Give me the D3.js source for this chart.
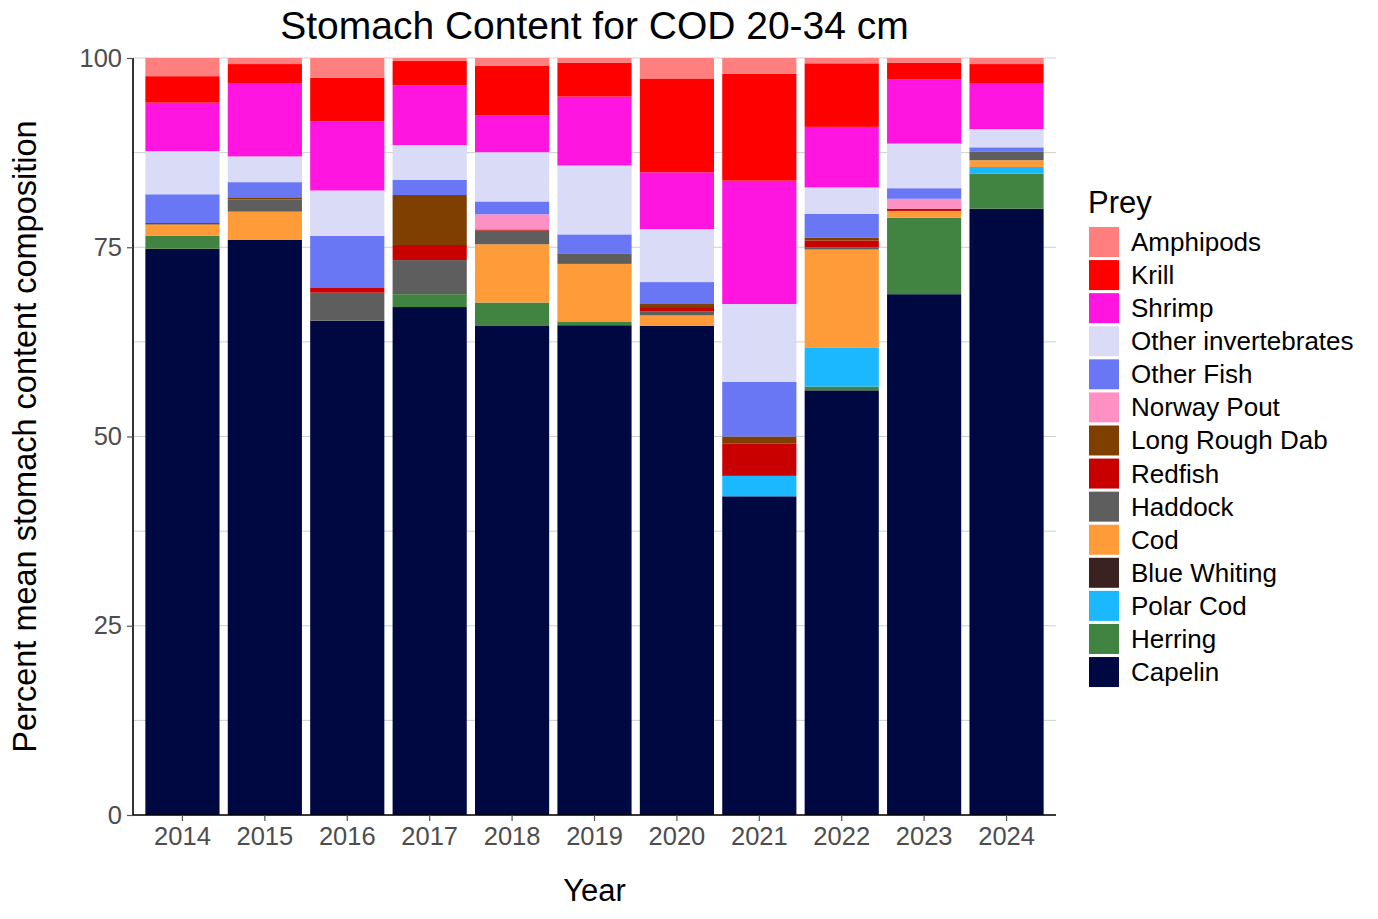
<!DOCTYPE html>
<html>
<head>
<meta charset="utf-8">
<script src="https://cdn.jsdelivr.net/npm/d3@7"></script>
<style>
  body { margin: 0; background: #fff; }
  text { font-family: "Liberation Sans", Arial, sans-serif; }
</style>
</head>
<body>
<div id="chart"></div>
<script>
// years on the x axis
const years = ["2014","2015","2016","2017","2018","2019","2020","2021","2022","2023","2024"];

// prey, top of stack first (legend order)
const prey = ["Amphipods","Krill","Shrimp","Other invertebrates","Other Fish","Norway Pout",
  "Long Rough Dab","Redfish","Haddock","Cod","Blue Whiting","Polar Cod","Herring","Capelin"];

const preyColors = ["#ff7f7f","#ff0000","#ff14e0","#d9dbf7","#6977f5","#ff90c4",
  "#7f3f00","#c80000","#5e5e5e","#ff9b38","#3a2220","#1cb8ff","#418442","#000842"];

// percent per year, one array per prey
const capelin     = [74.8, 76.0, 65.3, 67.1, 64.6, 64.7, 64.6, 42.1, 56.1, 68.8, 80.1];
const herring     = [1.7, 0, 0, 1.7, 3.1, 0.5, 0, 0, 0.5, 10.1, 4.6];
const polarCod    = [0, 0, 0, 0, 0, 0, 0, 2.7, 5.1, 0, 0.9];
const blueWhiting = [0, 0, 0, 0, 0, 0, 0, 0, 0, 0, 0];
const cod         = [1.5, 3.7, 0, 0, 7.7, 7.6, 1.4, 0, 13.0, 0.9, 0.9];
const haddock     = [0, 1.6, 3.7, 4.5, 1.8, 1.4, 0.5, 0, 0.3, 0, 1.1];
const redfish     = [0, 0, 0.7, 2.0, 0.15, 0, 0.6, 4.3, 0.9, 0.3, 0];
const longRoughDab= [0.2, 0.3, 0, 6.6, 0, 0, 0.4, 0.9, 0.4, 0, 0];
const norwayPout  = [0, 0, 0, 0, 2.0, 0, 0, 0, 0, 1.3, 0];
const otherFish   = [3.8, 2.0, 6.8, 2.0, 1.7, 2.5, 2.9, 7.2, 3.1, 1.4, 0.6];
const otherInv    = [5.7, 3.4, 6.0, 4.6, 6.5, 9.1, 7.0, 10.3, 3.5, 5.9, 2.4];
const shrimp      = [6.4, 9.7, 9.1, 7.9, 4.9, 9.1, 7.5, 16.3, 8.0, 8.5, 6.1];
const krill       = [3.5, 2.5, 5.8, 3.2, 6.5, 4.5, 12.4, 14.1, 8.4, 2.2, 2.5];
const amphipods   = [2.4, 0.8, 2.6, 0.4, 1.05, 0.6, 2.7, 2.1, 0.7, 0.6, 0.8];

const yTicks = [0, 25, 50, 75, 100];
const yMinor = [12.5, 37.5, 62.5, 87.5];

const seriesByPrey = {
  "Amphipods": amphipods, "Krill": krill, "Shrimp": shrimp, "Other invertebrates": otherInv,
  "Other Fish": otherFish, "Norway Pout": norwayPout, "Long Rough Dab": longRoughDab,
  "Redfish": redfish, "Haddock": haddock, "Cod": cod, "Blue Whiting": blueWhiting,
  "Polar Cod": polarCod, "Herring": herring, "Capelin": capelin
};

const rows = years.map((y, i) => {
  const r = {year: y};
  prey.forEach(p => r[p] = seriesByPrey[p][i]);
  return r;
});

const width = 1378, height = 919;
const margin = {top: 58, right: 322, bottom: 104, left: 133};
const innerW = width - margin.left - margin.right;
const innerH = height - margin.top - margin.bottom;

const svg = d3.select("#chart").append("svg")
  .attr("width", width).attr("height", height);

const g = svg.append("g")
  .attr("transform", "translate(" + margin.left + "," + margin.top + ")");

// ggplot style discrete axis: 0.6 units on each side, bars 0.9 wide
const x = d3.scaleBand()
  .domain(years)
  .range([0, innerW])
  .paddingInner(0.1)
  .paddingOuter(0.15);

const y = d3.scaleLinear().domain([0, 100]).range([innerH, 0]);
const color = d3.scaleOrdinal().domain(prey).range(preyColors);

// grid
g.append("g").selectAll("line")
  .data(yMinor.concat(yTicks))
  .enter().append("line")
  .attr("x1", 0).attr("x2", innerW)
  .attr("y1", d => y(d)).attr("y2", d => y(d))
  .attr("stroke", "#cfcfcf").attr("stroke-width", 1);

// stack, capelin at the bottom
const stackKeys = prey.slice().reverse();
const stacked = d3.stack().keys(stackKeys)(rows);

g.append("g").selectAll("g")
  .data(stacked)
  .enter().append("g")
  .attr("fill", d => color(d.key))
  .selectAll("rect")
  .data(d => d)
  .enter().append("rect")
  .attr("x", d => x(d.data.year))
  .attr("width", x.bandwidth())
  .attr("y", d => y(d[1]))
  .attr("height", d => y(d[0]) - y(d[1]));

// axes
const xAxis = g.append("g")
  .attr("transform", "translate(0," + innerH + ")")
  .call(d3.axisBottom(x).tickSize(6).tickPadding(6));
const yAxis = g.append("g")
  .call(d3.axisLeft(y).tickValues(yTicks).tickSize(6).tickPadding(5));

[xAxis, yAxis].forEach(a => {
  a.select(".domain").attr("stroke", "#000").attr("stroke-width", 1.6);
  a.selectAll(".tick line").attr("stroke", "#555").attr("stroke-width", 1.2);
  a.selectAll(".tick text").attr("fill", "#4d4d4d").style("font-size", "25.5px");
});
xAxis.select(".domain").attr("d", "M0,0H" + innerW);
yAxis.select(".domain").attr("d", "M0," + innerH + "V0");

// titles
svg.append("text")
  .attr("x", margin.left + innerW / 2).attr("y", 39)
  .attr("text-anchor", "middle")
  .style("font-size", "39px")
  .text("Stomach Content for COD 20-34 cm");

svg.append("text")
  .attr("x", margin.left + innerW / 2).attr("y", 901)
  .attr("text-anchor", "middle")
  .style("font-size", "31px")
  .text("Year");

svg.append("text")
  .attr("transform", "translate(36," + (margin.top + innerH / 2) + ") rotate(-90)")
  .attr("text-anchor", "middle")
  .style("font-size", "32.5px")
  .text("Percent mean stomach content composition");

// legend
const legend = svg.append("g").attr("transform", "translate(1088,0)");
legend.append("text")
  .attr("x", 0).attr("y", 213)
  .style("font-size", "31px")
  .text("Prey");

const item = legend.selectAll(".item")
  .data(prey)
  .enter().append("g")
  .attr("class", "item")
  .attr("transform", (d, i) => "translate(0," + (227 + i * 33.08) + ")");

item.append("rect")
  .attr("x", 1).attr("y", 0)
  .attr("width", 30).attr("height", 30)
  .attr("fill", d => color(d));

item.append("text")
  .attr("x", 43).attr("y", 24)
  .style("font-size", "26px")
  .text(d => d);
</script>
</body>
</html>
